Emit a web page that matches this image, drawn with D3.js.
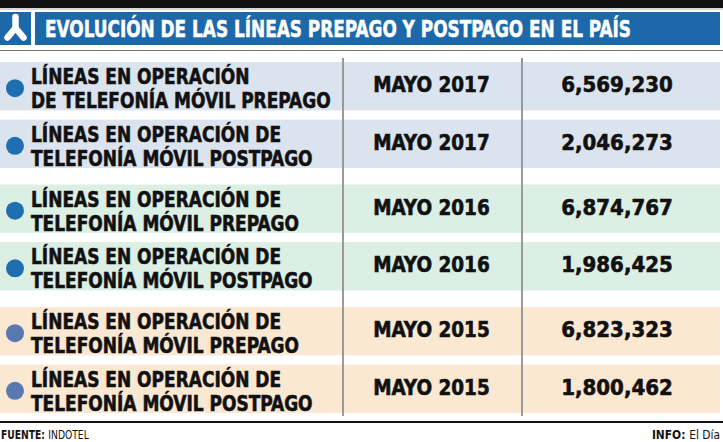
<!DOCTYPE html>
<html>
<head>
<meta charset="utf-8">
<script src="https://cdn.jsdelivr.net/npm/d3@7"></script>
<style>
  body { margin: 0; background: #fff; }
  svg { display: block; }
  text { font-family: "DejaVu Sans Condensed", "DejaVu Sans", sans-serif; font-weight: bold; }
  .heavy { stroke: #111; stroke-width: 0.6px; }
</style>
</head>
<body>
<div id="chart"></div>
<script>
var years = ["2017", "2016", "2015"]
var kinds = ["PREPAGO", "POSTPAGO"]
var labels = [
  ["LÍNEAS EN OPERACIÓN", "DE TELEFONÍA MÓVIL PREPAGO"],
  ["LÍNEAS EN OPERACIÓN DE", "TELEFONÍA MÓVIL POSTPAGO"],
  ["LÍNEAS EN OPERACIÓN DE", "TELEFONÍA MÓVIL PREPAGO"],
  ["LÍNEAS EN OPERACIÓN DE", "TELEFONÍA MÓVIL POSTPAGO"],
  ["LÍNEAS EN OPERACIÓN DE", "TELEFONÍA MÓVIL PREPAGO"],
  ["LÍNEAS EN OPERACIÓN DE", "TELEFONÍA MÓVIL POSTPAGO"]
]
var values = [6569230, 2046273, 6874767, 1986425, 6823323, 1800462]
var title = "EVOLUCIÓN DE LAS LÍNEAS PREPAGO Y POSTPAGO EN EL PAÍS"

var width = 723, height = 442
var groupFill = ["#dbe4ee", "#dcefe5", "#fbe8d2"]
var dotFill = ["#1f6fb0", "#1f6fb0", "#5878b2"]
var blue = "#1c68a8"

var svg = d3.select("#chart").append("svg")
  .attr("width", width)
  .attr("height", height)

// helper: text squeezed horizontally (the paper uses a condensed face)
function squeezed(parent, x, y, sx, anchor) {
  return parent.append("g")
    .attr("transform", "translate(" + x + "," + y + ") scale(" + sx + ",1)")
    .append("text")
    .attr("text-anchor", anchor || "start")
}

// top black strip + header
svg.append("rect").attr("x", 0).attr("y", 0).attr("width", width).attr("height", 8).attr("fill", "#111")
svg.append("rect").attr("x", 0).attr("y", 8).attr("width", width).attr("height", 2).attr("fill", "#d8d8d8")
svg.append("rect").attr("x", 0).attr("y", 12).attr("width", 31).attr("height", 33).attr("fill", blue)
svg.append("path")
  .attr("d", "M15.5,17 L15.5,28 M15.5,28 L7.5,37.5 M15.5,28 L23.5,37.5")
  .attr("stroke", "#fff").attr("stroke-width", 6.5).attr("stroke-linecap", "round").attr("fill", "none")
svg.append("rect").attr("x", 35).attr("y", 12).attr("width", 685).attr("height", 33).attr("fill", blue)
squeezed(svg, 45, 37, 0.80)
  .attr("fill", "#fff")
  .attr("stroke", "#fff").attr("stroke-width", 0.5)
  .style("font-size", "23.5px")
  .text(title)
svg.append("line").attr("x1", 0).attr("x2", width).attr("y1", 50.5).attr("y2", 50.5)
  .attr("stroke", "#777").attr("stroke-width", 1)

// row layout: groups by year, two rows per group
var yGroup = d3.scaleBand().domain(years).range([62, 413]).paddingInner(0.135)
var yRow = d3.scaleBand().domain(kinds).range([0, yGroup.bandwidth()]).paddingInner(0.16)
var cols = d3.scaleOrdinal().domain(["label", "date", "value"]).range([0, 343, 522])
var colEnd = 720

var rows = values.map(function(v, i) {
  var g = years[Math.floor(i / 2)]
  var k = kinds[i % 2]
  return { year: g, kind: k, gi: Math.floor(i / 2), label: labels[i], value: v,
           y: yGroup(g) + yRow(k), h: yRow.bandwidth() }
})

var fmt = d3.format(",")

var row = svg.selectAll("g.row").data(rows).enter().append("g").attr("class", "row")
  .attr("transform", function(d) { return "translate(0," + d.y + ")" })

row.append("rect")
  .attr("x", 0).attr("y", 0)
  .attr("width", colEnd).attr("height", function(d) { return d.h })
  .attr("fill", function(d) { return groupFill[d.gi] })

row.append("circle")
  .attr("cx", 15).attr("cy", function(d) { return d.h / 2 + 2 })
  .attr("r", 9)
  .attr("fill", function(d) { return dotFill[d.gi] })

row.each(function(d) {
  var r = d3.select(this)
  squeezed(r, 31, 22, 0.86).attr("class", "heavy").style("font-size", "22px").attr("fill", "#111").text(d.label[0])
  squeezed(r, 31, 46, 0.86).attr("class", "heavy").style("font-size", "22px").attr("fill", "#111").text(d.label[1])
  squeezed(r, (cols("date") + cols("value")) / 2 - 1, d.h / 2 + 6, 0.93, "middle")
    .attr("class", "heavy").style("font-size", "22px").attr("fill", "#111").text("MAYO " + d.year)
  squeezed(r, (cols("value") + colEnd) / 2 - 4, d.h / 2 + 6, 1, "middle")
    .attr("class", "heavy").style("font-size", "22px").attr("fill", "#111").text(fmt(d.value))
})

// column separators
svg.selectAll("line.sep").data(["date", "value"]).enter().append("line")
  .attr("class", "sep")
  .attr("x1", function(d) { return cols(d) }).attr("x2", function(d) { return cols(d) })
  .attr("y1", 58).attr("y2", 416)
  .attr("stroke", "#9a9a9a").attr("stroke-width", 2)

// footer
svg.append("line").attr("x1", 0).attr("x2", width).attr("y1", 422).attr("y2", 422)
  .attr("stroke", "#111").attr("stroke-width", 2)
var src = squeezed(svg, 1, 439, 0.82).style("font-size", "12.5px").attr("fill", "#111")
src.append("tspan").text("FUENTE: ")
src.append("tspan").style("font-weight", "normal").text("INDOTEL")
var info = squeezed(svg, 720, 439, 0.95, "end").style("font-size", "12.5px").attr("fill", "#111")
info.append("tspan").text("INFO: ")
info.append("tspan").style("font-weight", "normal").text("El Día")
</script>
</body>
</html>
